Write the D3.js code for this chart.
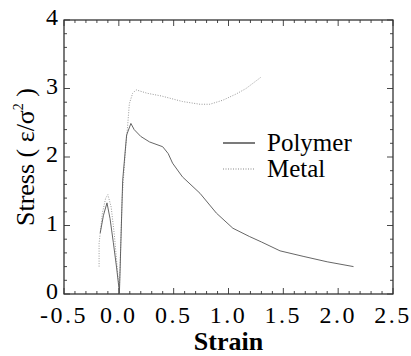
<!DOCTYPE html>
<html><head><meta charset="utf-8">
<script src="https://cdn.jsdelivr.net/npm/d3@7"></script>
<style>body{margin:0;background:#fff}svg{display:block}</style>
</head><body>
<script>
// Data (strain, stress)
const polymerStrain = [-0.17,-0.14,-0.108,-0.08,-0.05,-0.02,0.0,0.005,0.035,0.071,0.11,0.14,0.2,0.28,0.40,0.45,0.49,0.58,0.74,0.89,1.04,1.19,1.30,1.47,1.68,1.90,2.14];
const polymerStress = [0.89,1.15,1.33,1.1,0.75,0.38,0.1,0.0,1.66,2.32,2.49,2.4,2.3,2.22,2.15,2.05,1.91,1.71,1.47,1.18,0.96,0.84,0.76,0.63,0.55,0.47,0.40];
const metalStrain = [-0.18,-0.18,-0.15,-0.12,-0.10,-0.07,-0.04,-0.01,0.005,0.03,0.06,0.08,0.096,0.126,0.157,0.26,0.39,0.58,0.74,0.83,0.95,1.07,1.16,1.30];
const metalStress = [0.4,0.74,1.18,1.4,1.45,1.27,0.85,0.3,0.05,1.4,2.1,2.45,2.78,2.93,2.98,2.93,2.89,2.81,2.77,2.77,2.83,2.92,3.0,3.17];
const xTicks = [-0.5,0.0,0.5,1.0,1.5,2.0,2.5];
const xTickLabels = ["-0.5","0.0","0.5","1.0","1.5","2.0","2.5"];
const yTicks = [0,1,2,3,4];
const seriesNames = ["Polymer","Metal"];

const W=411,H=356;
const m={l:64,r:18,t:20,b:62};
const FONT='"Liberation Serif"';
const svg=d3.select("body").append("svg").attr("width",W).attr("height",H);
const x=d3.scaleLinear().domain([-0.5,2.5]).range([m.l,W-m.r]);
const y=d3.scaleLinear().domain([0,4]).range([H-m.b,m.t]);

// frame
svg.append("rect").attr("x",x(-0.5)).attr("y",y(4)).attr("width",x(2.5)-x(-0.5)).attr("height",y(0)-y(4))
  .attr("fill","none").attr("stroke","#222").attr("stroke-width",1.2);

// ticks (inward on all sides)
const minorX=d3.range(-0.5,2.5001,0.1), minorY=d3.range(0,4.0001,0.2);
const tg=svg.append("g").attr("stroke","#333").attr("stroke-width",0.9);
minorX.forEach(v=>{
  const major=Math.abs(v*2-Math.round(v*2))<1e-6;
  const L=major?6:3;
  tg.append("line").attr("x1",x(v)).attr("x2",x(v)).attr("y1",y(0)).attr("y2",y(0)-L);
  tg.append("line").attr("x1",x(v)).attr("x2",x(v)).attr("y1",y(4)).attr("y2",y(4)+L);
});
minorY.forEach(v=>{
  const major=Math.abs(v-Math.round(v))<1e-6;
  const L=major?6:3;
  tg.append("line").attr("y1",y(v)).attr("y2",y(v)).attr("x1",x(-0.5)).attr("x2",x(-0.5)+L);
  tg.append("line").attr("y1",y(v)).attr("y2",y(v)).attr("x1",x(2.5)).attr("x2",x(2.5)-L);
});

// tick labels
svg.append("g").selectAll("text").data(xTicks).join("text")
  .attr("x",d=>x(d)).attr("y",y(0)+29).attr("text-anchor","middle")
  .style("font-family",FONT).attr("font-size",24).attr("letter-spacing","2.5px")
  .text((d,i)=>xTickLabels[i]);
svg.append("g").selectAll("text").data(yTicks).join("text")
  .attr("x",x(-0.5)-6).attr("y",d=>y(d)+5).attr("text-anchor","end")
  .style("font-family",FONT).attr("font-size",24)
  .text(d=>d);

// axis titles
svg.append("text").attr("x",(x(-0.5)+x(2.5))/2).attr("y",350).attr("text-anchor","middle")
  .style("font-family",FONT).attr("font-size",26).attr("font-weight","bold").text("Strain");
const yl=svg.append("text").attr("transform",`translate(34,${(y(0)+y(4))/2}) rotate(-90)`)
  .attr("text-anchor","middle").style("font-family",FONT).attr("font-size",26);
yl.append("tspan").text("Stress ( ε/σ");
yl.append("tspan").attr("font-size",14).attr("dy",-11).text("2");
yl.append("tspan").attr("dy",11).text(" )");

// lines
const line=d3.line().x(d=>x(d[0])).y(d=>y(d[1]));
const polyData=polymerStrain.map((s,i)=>[s,polymerStress[i]]);
const metalData=metalStrain.map((s,i)=>[s,metalStress[i]]);
svg.append("path").datum(metalData).attr("d",line).attr("fill","none")
  .attr("stroke","#999").attr("stroke-width",1).attr("stroke-dasharray","1,1.5");
svg.append("path").datum(polyData).attr("d",line).attr("fill","none")
  .attr("stroke","#555").attr("stroke-width",0.9);

// legend
const lg=svg.append("g");
const legY=[143,169];
lg.append("line").attr("x1",223).attr("x2",255).attr("y1",legY[0]).attr("y2",legY[0]).attr("stroke","#333").attr("stroke-width",1.3);
lg.append("line").attr("x1",223).attr("x2",255).attr("y1",legY[1]).attr("y2",legY[1]).attr("stroke","#888").attr("stroke-width",1.2).attr("stroke-dasharray","1,1.5");
seriesNames.forEach((n,i)=>{
  lg.append("text").attr("x",267).attr("y",legY[i]+8).style("font-family",FONT).attr("font-size",25).text(n);
});
</script>
</body></html>
